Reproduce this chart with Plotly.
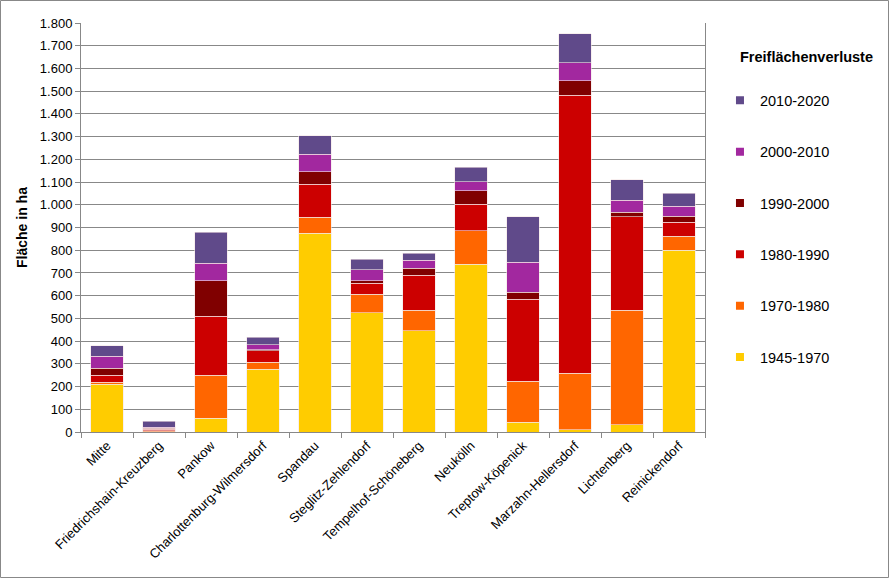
import plotly.graph_objects as go

categories = ["Mitte", "Friedrichshain-Kreuzberg", "Pankow", "Charlottenburg-Wilmersdorf",
              "Spandau", "Steglitz-Zehlendorf", "Tempelhof-Schöneberg", "Neukölln",
              "Treptow-Köpenick", "Marzahn-Hellersdorf", "Lichtenberg", "Reinickendorf"]

v_1945_1970 = [211, 1, 60, 277, 875, 524, 445, 738, 43, 9, 31, 801]
v_1970_1980 = [8, 4, 190, 30, 70, 82, 91, 147, 181, 249, 505, 60]
v_1980_1990 = [30, 8, 259, 51, 145, 48, 154, 117, 360, 1224, 412, 62]
v_1990_2000 = [31, 3, 157, 5, 56, 12, 30, 60, 31, 64, 19, 26]
v_2000_2010 = [54, 6, 76, 20, 76, 48, 36, 40, 132, 79, 53, 44]
v_2010_2020 = [46, 25, 137, 34, 82, 46, 30, 63, 201, 128, 90, 58]

series = [
    ("1945-1970", v_1945_1970, "#FFCC00"),
    ("1970-1980", v_1970_1980, "#FF6600"),
    ("1980-1990", v_1980_1990, "#CC0000"),
    ("1990-2000", v_1990_2000, "#800000"),
    ("2000-2010", v_2000_2010, "#A2289F"),
    ("2010-2020", v_2010_2020, "#604A8A"),
]

font = "Liberation Sans, Arial, sans-serif"
fig = go.Figure()
for name, vals, col in series:
    fig.add_trace(go.Bar(x=categories, y=vals, name=name, legendgroup=name, showlegend=False,
                         marker=dict(color=col, line=dict(color="#F4E4E4", width=0.6))))
# legend entries with small square symbols, top item = newest period
for rank, (name, vals, col) in enumerate(reversed(series)):
    fig.add_trace(go.Scatter(x=[None], y=[None], mode="markers", name=name,
                             legendgroup=name, legendrank=rank + 1,
                             marker=dict(symbol="square", size=8, color=col)))

fig.update_layout(
    width=890, height=579,
    barmode="stack", bargap=0.38,
    separators=",.",
    paper_bgcolor="white", plot_bgcolor="white",
    margin=dict(l=81, r=185, t=23, b=147),
    font=dict(family=font, size=12, color="black"),
    legend=dict(traceorder="grouped", tracegroupgap=29.5,
                x=1.024, xanchor="left", y=0.85, yanchor="top",
                font=dict(size=14.5), itemwidth=30),
    showlegend=True,
)
fig.add_annotation(text="<b>Freiflächenverluste</b>", xref="paper", yref="paper",
                   x=(738 - 81) / 624, y=(432 - 57) / 409, xanchor="left", yanchor="middle",
                   showarrow=False, font=dict(size=14.5))
fig.update_yaxes(range=[0, 1800], dtick=100, separatethousands=True, tickformat=",d",
                 showgrid=True, gridcolor="#888888", gridwidth=1,
                 showline=True, linecolor="#888888", mirror=True,
                 ticks="outside", ticklen=5, tickcolor="#888888",
                 tickfont=dict(size=13),
                 title=dict(text="<b>Fläche in ha</b>", font=dict(size=14), standoff=8))
fig.update_xaxes(showline=True, linecolor="#888888", tickangle=-45,
                 ticks="outside", ticklen=5, tickcolor="#888888", tickson="boundaries",
                 tickfont=dict(size=13))
fig.add_shape(type="rect", xref="paper", yref="paper",
              x0=-80.5/624, x1=807.5/624, y0=-145.5/409, y1=431.5/409,
              line=dict(color="#888888", width=1), layer="above")
fig.write_html("out.html")
